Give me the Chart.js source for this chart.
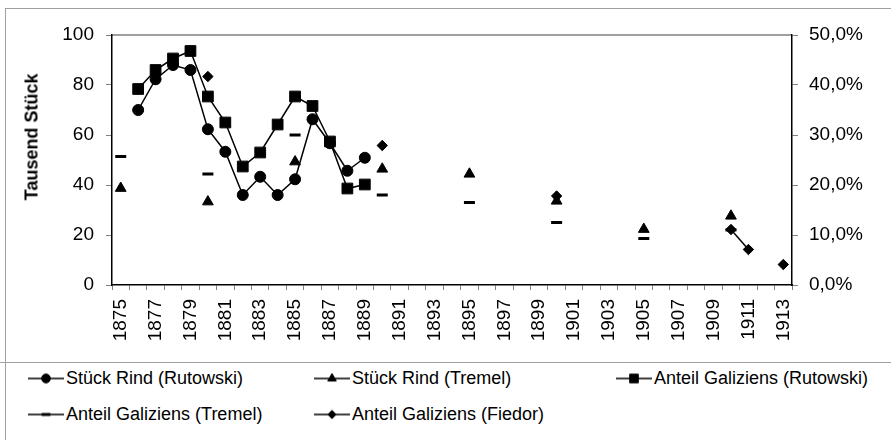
<!DOCTYPE html>
<html lang="de">
<head>
    <meta charset="UTF-8">
    <title>Rinder aus Galizien 1875-1913</title>
    <script src="https://cdn.jsdelivr.net/npm/chart.js@4.4.3/dist/chart.umd.min.js"></script>
    <style>
        body { margin: 0; background: #fff; font-family: 'Liberation Sans', Arial, sans-serif; }
        #wrap { position: relative; width: 891px; height: 440px; overflow: hidden; }
        #frame { position: absolute; left: 5px; top: 8px; width: 950px; height: 500px;
                 border-left: 1px solid #a0a0a0; border-top: 1px solid #a0a0a0; }
        #legendLine { position: absolute; left: 0; top: 362px; width: 891px; border-top: 1px solid #a0a0a0; }
        #chartBox { position: absolute; left: 0; top: 0; width: 891px; height: 362px; }
        #yTitle { position: absolute; left: 32px; top: 137px; white-space: nowrap;
                  font-weight: bold; font-size: 18px; transform: translate(-50%, -50%) rotate(-90deg); }
        .item { position: absolute; display: flex; align-items: center; font-size: 18px;
                white-space: nowrap; transform: translateY(-50%); }
        .item canvas { margin-right: 2px; }
    </style>
</head>
<body>
<div id="wrap">
    <div id="frame"></div>
    <div id="chartBox"><canvas id="chart"></canvas></div>
    <div id="yTitle">Tausend Stück</div>
    <div id="legendLine"></div>
    <div id="legend"></div>
</div>
<script>
    // Jahre (Kategorien)
    const years = ['1875', '1876', '1877', '1878', '1879', '1880', '1881', '1882', '1883', '1884',
        '1885', '1886', '1887', '1888', '1889', '1890', '1891', '1892', '1893', '1894',
        '1895', '1896', '1897', '1898', '1899', '1900', '1901', '1902', '1903', '1904',
        '1905', '1906', '1907', '1908', '1909', '1910', '1911', '1912', '1913'];

    // Stück Rind in Tausend (linke Achse)
    const rindRutowski = [null, 70, 82.3, 88, 86, 62.3, 53.3, 36, 43.3, 36,
        42.3, 66.3, 56.7, 45.7, 50.9, null, null, null, null, null,
        null, null, null, null, null, null, null, null, null, null,
        null, null, null, null, null, null, null, null, null];
    const rindTremel = [38.7, null, null, null, null, 33.3, null, null, null, null,
        49.3, null, null, null, null, 46.4, null, null, null, null,
        44.4, null, null, null, null, 33.6, null, null, null, null,
        22.3, null, null, null, null, 27.6, null, null, null];

    // Anteil Galiziens in Prozent (rechte Achse)
    const anteilRutowski = [null, 39.2, 43.0, 45.3, 46.8, 37.7, 32.5, 23.7, 26.5, 32.1,
        37.7, 35.8, 28.7, 19.3, 20.1, null, null, null, null, null,
        null, null, null, null, null, null, null, null, null, null,
        null, null, null, null, null, null, null, null, null];
    const anteilTremel = [25.7, null, null, null, null, 22.2, null, null, null, null,
        30, null, null, null, null, 18, null, null, null, null,
        16.5, null, null, null, null, 12.5, null, null, null, null,
        9.3, null, null, null, null, 11, null, null, null];
    const anteilFiedor = [null, null, null, null, null, 41.7, null, null, null, null,
        null, null, null, null, null, 27.9, null, null, null, null,
        null, null, null, null, null, 17.8, null, null, null, null,
        null, null, null, null, null, 11.1, 7.1, null, 4.1];

    const leftTicks = [0, 20, 40, 60, 80, 100];
    const rightTicks = [0, 10, 20, 30, 40, 50];

    Chart.defaults.font.family = "'Liberation Sans', Arial, sans-serif";
    Chart.defaults.color = '#000';

    const series = [
        { label: 'Stück Rind (Rutowski)', data: rindRutowski, axis: 'y', style: 'circle', r: 5.5, bw: 1 },
        { label: 'Stück Rind (Tremel)', data: rindTremel, axis: 'y', style: 'triangle', r: 6.2, bw: 1 },
        { label: 'Anteil Galiziens (Rutowski)', data: anteilRutowski, axis: 'y1', style: 'rect', r: 7.6, bw: 1 },
        { label: 'Anteil Galiziens (Tremel)', data: anteilTremel, axis: 'y1', style: 'line', r: 5.5, bw: 3 },
        { label: 'Anteil Galiziens (Fiedor)', data: anteilFiedor, axis: 'y1', style: 'rectRot', r: 5.2, bw: 1 }
    ];

    const datasets = series.map(s => ({
        label: s.label,
        data: s.data,
        yAxisID: s.axis,
        borderColor: '#000',
        backgroundColor: '#000',
        borderWidth: 1.5,
        tension: 0,
        spanGaps: false,
        pointStyle: s.style,
        pointRadius: s.r,
        pointHoverRadius: s.r,
        pointBorderWidth: s.bw,
        pointBackgroundColor: '#000',
        pointBorderColor: '#000'
    }));

    // graue Linie oben an der Zeichenfläche
    const plotFrame = {
        id: 'plotFrame',
        beforeDraw(chart) {
            const { ctx, chartArea: a } = chart;
            ctx.save();
            ctx.strokeStyle = '#808080';
            ctx.lineWidth = 1.5;
            ctx.beginPath();
            ctx.moveTo(a.left, a.top);
            ctx.lineTo(a.right, a.top);
            ctx.stroke();
            ctx.restore();
        }
    };

    const ctx = document.getElementById('chart').getContext('2d');
    const chart = new Chart(ctx, {
        type: 'line',
        data: { labels: years, datasets: datasets },
        plugins: [plotFrame],
        options: {
            responsive: true,
            maintainAspectRatio: false,
            animation: false,
            layout: { padding: { top: 35, left: 0, right: 0, bottom: 0 } },
            plugins: { legend: { display: false }, tooltip: { enabled: false } },
            scales: {
                x: {
                    offset: true,
                    grid: { offset: true, drawOnChartArea: false, drawTicks: true, tickLength: 5, color: '#808080' },
                    border: { color: '#000', width: 1.5 },
                    ticks: {
                        autoSkip: false, minRotation: 90, maxRotation: 90, padding: 9,
                        font: { size: 19 },
                        callback: (v, i) => (i % 2 === 0 ? years[i] : '')
                    },
                    afterFit: s => { s.height = 77; }
                },
                y: {
                    position: 'left',
                    min: 0, max: 100,
                    afterBuildTicks: s => { s.ticks = leftTicks.map(v => ({ value: v })); },
                    grid: { drawOnChartArea: false, tickLength: 6, color: '#808080' },
                    border: { color: '#000', width: 1.5 },
                    ticks: { padding: 12, font: { size: 19 } },
                    afterFit: s => { s.width = 112; }
                },
                y1: {
                    position: 'right',
                    min: 0, max: 50,
                    afterBuildTicks: s => { s.ticks = rightTicks.map(v => ({ value: v })); },
                    grid: { drawOnChartArea: false, tickLength: 6, color: '#808080' },
                    border: { color: '#000', width: 1.5 },
                    ticks: {
                        padding: 11, font: { size: 19 },
                        callback: v => v.toFixed(1).replace('.', ',') + '%'
                    },
                    afterFit: s => { s.width = 99; }
                }
            }
        }
    });

    // Legende unter dem Diagramm
    const legendSlots = [
        { x: 28, y: 378 }, { x: 314, y: 378 }, { x: 616, y: 378 },
        { x: 28, y: 414 }, { x: 314, y: 414 }
    ];
    const legend = document.getElementById('legend');
    series.forEach((s, i) => {
        const item = document.createElement('div');
        item.className = 'item';
        item.style.left = legendSlots[i].x + 'px';
        item.style.top = legendSlots[i].y + 'px';
        const c = document.createElement('canvas');
        c.width = 36; c.height = 18;
        const g = c.getContext('2d');
        g.strokeStyle = '#000';
        g.fillStyle = '#000';
        g.lineWidth = 1.5;
        g.beginPath();
        g.moveTo(0, 9);
        g.lineTo(36, 9);
        g.stroke();
        g.lineWidth = s.bw;
        Chart.helpers.drawPoint(g, { pointStyle: s.style, radius: s.r * 0.8, borderWidth: s.bw }, 18, 9);
        item.appendChild(c);
        const t = document.createElement('span');
        t.textContent = s.label;
        item.appendChild(t);
        legend.appendChild(item);
    });
</script>
</body>
</html>
